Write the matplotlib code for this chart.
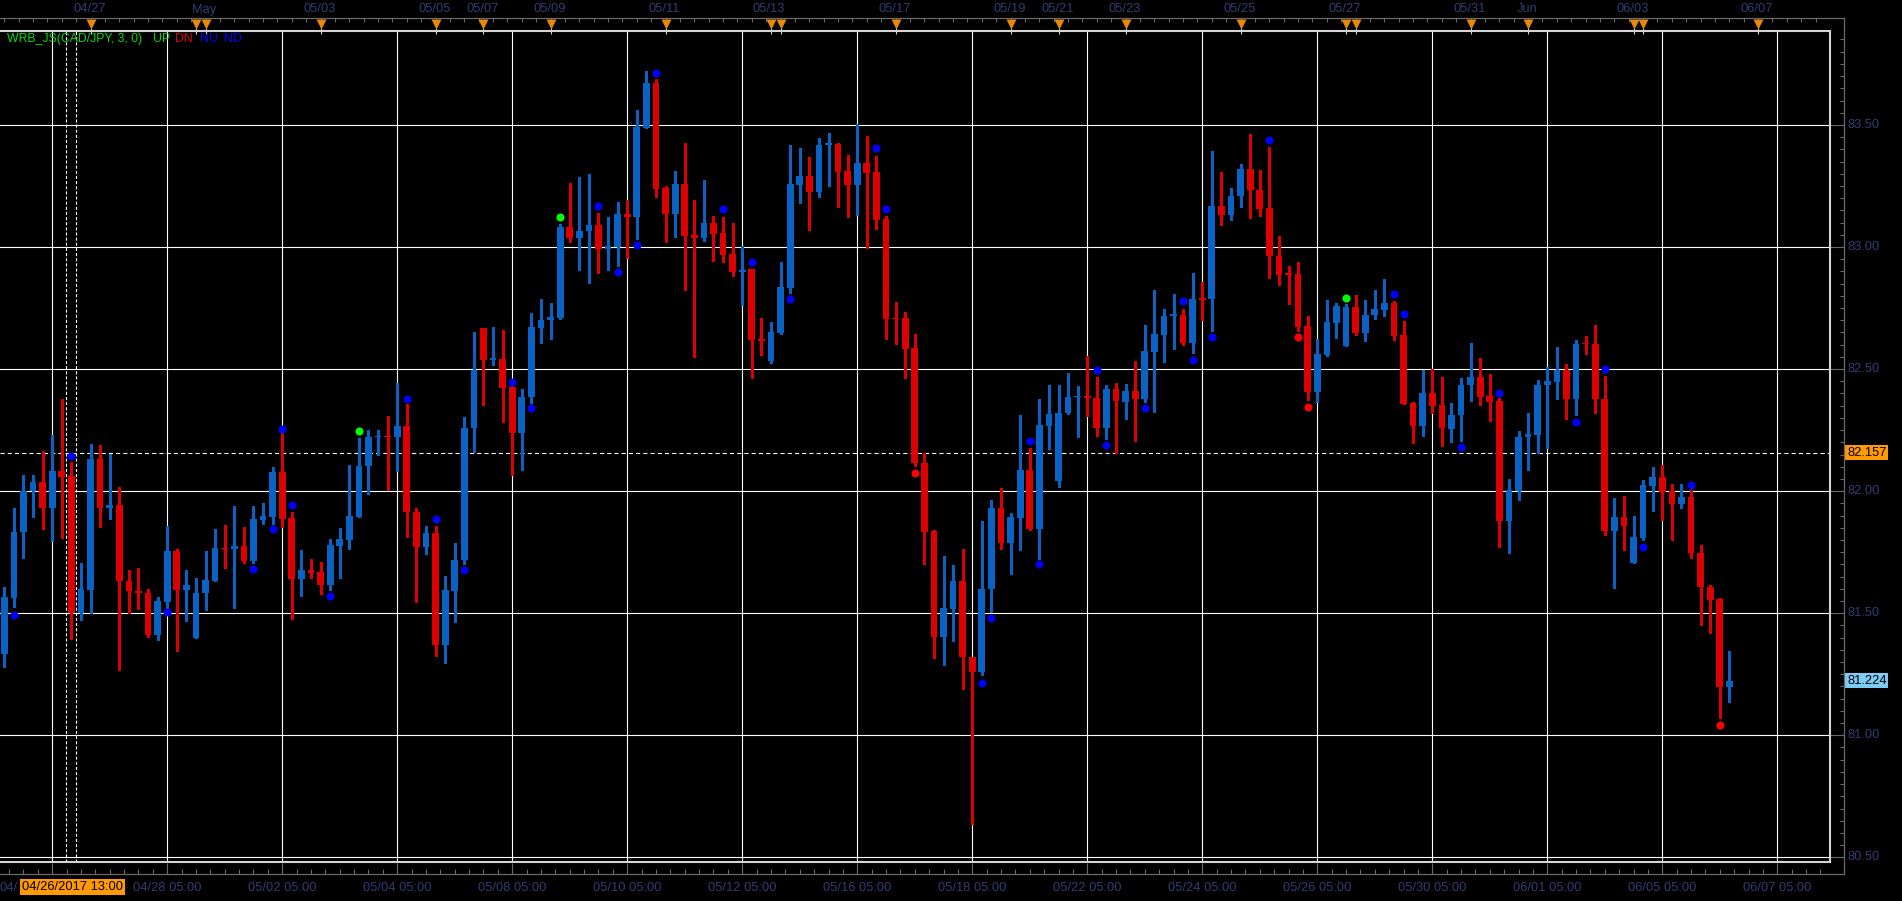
"""CAD/JPY H4 candles with WRB_JS dots, MT4-style dark chart."""

from __future__ import annotations

import matplotlib

matplotlib.use("Agg")
import matplotlib.pyplot as plt
import matplotlib.transforms as mtransforms
import numpy as np
from matplotlib.lines import Line2D
from matplotlib.patches import Rectangle

OUT_PATH = "out.png"
W_PX, H_PX = 1902, 901

# --- OHLC, one row per H4 bar (index 0 = leftmost bar) ---
OPEN = [
    81.335, 81.564, 81.831, 81.999, 82.038, 81.933, 82.083, 82.063, 81.500, 81.597,
    82.133, 81.933, 81.944, 81.633, 81.592, 81.583, 81.411, 81.546, 81.755, 81.597,
    81.400, 81.581, 81.633, 81.769, 81.761, 81.776, 81.714, 81.883, 81.895, 82.079,
    81.891, 81.641, 81.678, 81.669, 81.616, 81.776, 81.801, 81.895, 82.101, 82.220,
    82.224, 82.222, 82.267, 81.916, 81.770, 81.829, 81.368, 81.593, 81.716, 82.257,
    82.668, 82.539, 82.541, 82.427, 82.240, 82.385, 82.670, 82.699, 82.711, 83.082,
    83.038, 83.064, 83.091, 82.991, 83.001, 83.135, 83.123, 83.488, 83.671, 83.242,
    83.137, 83.259, 83.050, 83.035, 83.099, 83.059, 82.971, 82.897, 82.910, 82.621,
    82.533, 82.646, 82.833, 83.253, 83.291, 83.226, 83.418, 83.423, 83.312, 83.253,
    83.345, 83.308, 83.115, 82.709, 82.709, 82.586, 82.117, 81.835, 81.404, 81.519,
    81.630, 81.322, 81.259, 81.598, 81.933, 81.789, 81.891, 82.086, 81.843, 82.266,
    82.040, 82.320, 82.385, 82.387, 82.382, 82.257, 82.420, 82.367, 82.412, 82.379,
    82.571, 82.641, 82.718, 82.720, 82.608, 82.787, 82.785, 83.169, 83.133, 83.208,
    83.321, 83.235, 83.161, 82.964, 82.889, 82.890, 82.677, 82.408, 82.558, 82.690,
    82.596, 82.755, 82.649, 82.720, 82.743, 82.771, 82.641, 82.362, 82.268, 82.400,
    82.354, 82.255, 82.310, 82.433, 82.469, 82.391, 82.370, 81.876, 82.001, 82.220,
    82.231, 82.433, 82.448, 82.497, 82.376, 82.606, 82.604, 82.378, 81.835, 81.895,
    81.706, 81.809, 82.023, 82.059, 81.999, 81.949, 81.977, 81.747, 81.609, 81.559,
    81.199,
]
HIGH = [
    81.609, 81.932, 82.067, 82.067, 82.165, 82.231, 82.378, 82.119, 81.706, 82.194,
    82.190, 82.153, 82.016, 81.678, 81.686, 81.600, 81.567, 81.857, 81.761, 81.678,
    81.645, 81.755, 81.843, 81.862, 81.940, 81.854, 81.940, 81.951, 82.100, 82.238,
    81.915, 81.760, 81.723, 81.710, 81.805, 81.850, 82.108, 82.219, 82.249, 82.249,
    82.308, 82.444, 82.356, 81.931, 81.858, 81.858, 81.651, 81.789, 82.305, 82.651,
    82.668, 82.673, 82.661, 82.430, 82.419, 82.731, 82.787, 82.772, 83.096, 83.262,
    83.288, 83.300, 83.140, 83.123, 83.184, 83.193, 83.561, 83.721, 83.688, 83.250,
    83.310, 83.427, 83.193, 83.274, 83.128, 83.123, 83.098, 83.006, 82.910, 82.709,
    82.692, 82.937, 83.418, 83.406, 83.370, 83.448, 83.467, 83.427, 83.377, 83.504,
    83.454, 83.374, 83.128, 82.774, 82.734, 82.644, 82.157, 81.839, 81.736, 81.697,
    81.762, 81.322, 81.877, 81.964, 82.013, 81.912, 82.312, 82.178, 82.377, 82.433,
    82.433, 82.483, 82.429, 82.555, 82.469, 82.433, 82.444, 82.440, 82.534, 82.682,
    82.824, 82.748, 82.809, 82.748, 82.895, 82.857, 83.395, 83.309, 83.243, 83.342,
    83.464, 83.317, 83.411, 83.047, 82.923, 82.940, 82.719, 82.624, 82.784, 82.771,
    82.768, 82.804, 82.784, 82.824, 82.867, 82.780, 82.697, 82.367, 82.497, 82.502,
    82.467, 82.362, 82.464, 82.608, 82.546, 82.481, 82.380, 82.051, 82.247, 82.321,
    82.456, 82.510, 82.592, 82.522, 82.620, 82.637, 82.682, 82.473, 81.973, 81.981,
    81.899, 82.046, 82.100, 82.108, 82.031, 82.031, 82.003, 81.780, 81.616, 81.564,
    81.346,
]
LOW = [
    81.281, 81.525, 81.728, 81.896, 81.843, 81.794, 81.810, 81.395, 81.473, 81.500,
    81.854, 81.887, 81.269, 81.499, 81.518, 81.403, 81.392, 81.514, 81.346, 81.469,
    81.400, 81.515, 81.630, 81.687, 81.523, 81.704, 81.706, 81.865, 81.867, 81.854,
    81.477, 81.572, 81.646, 81.579, 81.596, 81.645, 81.764, 81.895, 81.987, 82.147,
    82.003, 82.084, 81.811, 81.544, 81.741, 81.323, 81.298, 81.466, 81.702, 82.160,
    82.351, 82.517, 82.284, 82.067, 82.087, 82.362, 82.605, 82.624, 82.705, 83.021,
    82.904, 82.851, 82.892, 82.904, 82.924, 82.953, 83.033, 83.488, 83.205, 83.021,
    83.042, 82.823, 82.551, 83.026, 82.943, 82.940, 82.881, 82.764, 82.464, 82.559,
    82.523, 82.642, 82.812, 83.180, 83.071, 83.205, 83.249, 83.163, 83.123, 83.130,
    82.996, 83.073, 82.623, 82.603, 82.464, 82.103, 81.701, 81.316, 81.287, 81.385,
    81.190, 80.638, 81.247, 81.504, 81.764, 81.659, 81.759, 81.839, 81.722, 82.174,
    82.019, 82.316, 82.220, 82.308, 82.226, 82.215, 82.155, 82.295, 82.204, 82.365,
    82.326, 82.530, 82.583, 82.600, 82.567, 82.702, 82.654, 83.089, 83.110, 83.165,
    83.118, 83.125, 82.875, 82.843, 82.765, 82.658, 82.375, 82.365, 82.555, 82.628,
    82.596, 82.638, 82.616, 82.707, 82.718, 82.621, 82.359, 82.199, 82.227, 82.321,
    82.185, 82.202, 82.206, 82.370, 82.354, 82.288, 81.772, 81.747, 81.964, 82.087,
    82.156, 82.178, 82.378, 82.294, 82.313, 82.563, 82.321, 81.821, 81.605, 81.757,
    81.706, 81.798, 81.919, 81.883, 81.798, 81.929, 81.728, 81.452, 81.417, 81.071,
    81.136,
]
CLOSE = [
    81.567, 81.833, 82.001, 82.038, 81.933, 82.083, 82.060, 81.500, 81.600, 82.133,
    81.933, 81.944, 81.630, 81.589, 81.581, 81.411, 81.551, 81.755, 81.597, 81.616,
    81.583, 81.637, 81.768, 81.761, 81.776, 81.714, 81.887, 81.899, 82.079, 81.887,
    81.641, 81.678, 81.665, 81.616, 81.780, 81.805, 81.899, 82.104, 82.222, 82.224,
    82.220, 82.267, 81.913, 81.770, 81.829, 81.368, 81.595, 81.719, 82.259, 82.498,
    82.539, 82.541, 82.424, 82.240, 82.386, 82.673, 82.702, 82.714, 83.082, 83.038,
    83.065, 83.091, 82.991, 83.003, 83.135, 83.123, 83.492, 83.671, 83.239, 83.137,
    83.259, 83.045, 83.035, 83.099, 83.055, 82.967, 82.897, 82.906, 82.621, 82.617,
    82.651, 82.835, 83.257, 83.291, 83.226, 83.418, 83.420, 83.308, 83.253, 83.345,
    83.303, 83.111, 82.705, 82.705, 82.584, 82.115, 81.831, 81.404, 81.523, 81.630,
    81.320, 81.259, 81.598, 81.933, 81.789, 81.893, 82.086, 81.843, 82.270, 82.316,
    82.322, 82.385, 82.387, 82.383, 82.257, 82.420, 82.370, 82.412, 82.379, 82.575,
    82.644, 82.719, 82.720, 82.608, 82.788, 82.784, 83.169, 83.133, 83.208, 83.321,
    83.232, 83.157, 82.962, 82.887, 82.887, 82.674, 82.408, 82.560, 82.694, 82.760,
    82.755, 82.649, 82.723, 82.748, 82.771, 82.636, 82.359, 82.268, 82.400, 82.350,
    82.257, 82.313, 82.436, 82.469, 82.387, 82.366, 81.876, 82.005, 82.223, 82.235,
    82.436, 82.452, 82.497, 82.376, 82.604, 82.602, 82.376, 81.835, 81.895, 81.859,
    81.813, 82.026, 82.059, 81.995, 81.949, 81.977, 81.745, 81.607, 81.556, 81.199,
    81.223,
]

# --- WRB_JS indicator dots: bar index, price, kind ---
DOT_IDX = [
    1, 7, 17, 26, 28, 29, 30, 34, 37, 42, 45, 48, 53, 55, 58, 62, 64, 66, 68, 75,
    78, 82, 91, 92, 95, 102, 103, 107, 108, 114, 115, 119, 123, 124, 126, 132, 135,
    136, 140, 145, 146, 152, 156, 164, 167, 171, 176, 179,
]
DOT_PRICE = [
    81.494, 82.146, 81.507, 81.683, 81.843, 82.255, 81.945, 81.572, 82.245, 82.379,
    81.887, 81.678, 82.449, 82.339, 83.123, 83.166, 82.899, 83.009, 83.711, 83.154,
    82.939, 82.789, 83.404, 83.157, 82.073, 81.215, 81.481, 82.205, 81.701, 82.498,
    82.188, 82.339, 82.777, 82.539, 82.630, 83.440, 82.633, 82.346, 82.793, 82.806,
    82.724, 82.182, 82.403, 82.284, 82.499, 81.772, 82.027, 81.042,
]
DOT_KIND = [
    "N", "N", "N", "N", "N", "N", "N", "N", "UP", "N", "N", "N", "N", "N", "UP", "N",
    "N", "N", "N", "N", "N", "N", "N", "N", "DN", "N", "N", "N", "N", "N", "N", "N",
    "N", "N", "N", "N", "DN", "DN", "UP", "N", "N", "N", "N", "N", "N", "N", "N", "DN",
]

# --- axes labelling ---
PRICE_LEVELS = [80.5, 81.0, 81.5, 82.0, 82.5, 83.0, 83.5]
BID_PRICE = 82.157
LAST_PRICE = 81.224
GRID_IDX = [5, 17, 29, 41, 53, 65, 77, 89, 101, 113, 125, 137, 149, 161, 173, 185]
BOTTOM_LABELS = [
    "04/28 05:00", "05/02 05:00", "05/04 05:00", "05/08 05:00", "05/10 05:00",
    "05/12 05:00", "05/16 05:00", "05/18 05:00", "05/22 05:00", "05/24 05:00",
    "05/26 05:00", "05/30 05:00", "06/01 05:00", "06/05 05:00", "06/07 05:00",
]
EVENT_IDX = [9, 20, 21, 33, 45, 50, 57, 69, 80, 81, 93, 105, 110, 117, 129, 140, 141,
             153, 159, 170, 171, 183]
TOP_LABEL_IDX = [8.9, 20.8, 32.9, 44.9, 49.9, 56.9, 68.9, 79.8, 92.9, 104.9, 109.9,
                 116.9, 128.9, 139.9, 152.9, 158.9, 169.9, 182.9]
TOP_LABELS = ["04/27", "May", "05/03", "05/05", "05/07", "05/09", "05/11", "05/13",
              "05/17", "05/19", "05/21", "05/23", "05/25", "05/27", "05/31", "Jun",
              "06/03", "06/07"]
CROSS_IDX = [6.47, 7.51]

UP_COL = "#0A62C4"
DN_COL = "#DD0000"
NAVY = "#333B73"
AXIS_GRAY = "#6A6A6A"
FRAME = "#D4D4D4"
FONT = "Liberation Sans"
FS = 9.3


def fx(px: float) -> float:
    return px / W_PX


def fy(px: float) -> float:
    return 1.0 - px / H_PX


def main() -> None:
    plt.rcParams.update({"font.family": FONT, "lines.scale_dashes": False})

    fig = plt.figure(figsize=(W_PX / 100, H_PX / 100), dpi=100)
    fig.patch.set_facecolor("black")

    ax = fig.add_axes([0, fy(862), fx(1830), (862 - 30.7) / H_PX])
    ax.set_facecolor("black")
    ax.set_xticks([])
    ax.set_yticks([])
    ax.spines["left"].set_visible(False)
    for s in ("top", "right", "bottom"):
        ax.spines[s].set_color(FRAME)
        ax.spines[s].set_linewidth(1.5)

    idx = np.arange(len(OPEN))
    o = np.array(OPEN)
    h = np.array(HIGH)
    lo = np.array(LOW)
    c = np.array(CLOSE)
    up = c >= o
    cols = np.where(up, UP_COL, DN_COL)

    # grid
    for p in PRICE_LEVELS:
        ax.axhline(p, color="white", lw=0.8, zorder=1)
    for g in GRID_IDX:
        ax.axvline(g, color="white", lw=0.8, zorder=1)

    ax.axhline(BID_PRICE, color="white", lw=0.8, linestyle=(0, (3.0, 2.2)), zorder=2)
    for x in CROSS_IDX:
        ax.axvline(x, color="white", lw=0.8, linestyle=(0, (2.2, 1.5)), zorder=2)

    # candles
    ax.vlines(idx, lo, h, colors=cols, lw=0.9, zorder=3, antialiased=False)
    body_lo = np.minimum(o, c)
    body_h = np.maximum(np.abs(c - o), 0.006)
    ax.bar(idx, body_h, bottom=body_lo, width=0.7, color=cols, lw=0,
           zorder=4, antialiased=False)

    # indicator dots
    kind_col = {"N": "#0000FF", "UP": "#00FF00", "DN": "#FF0000"}
    dk = np.array(DOT_KIND)
    for k, col in kind_col.items():
        m = dk == k
        ax.plot(np.array(DOT_IDX)[m], np.array(DOT_PRICE)[m], "o", ms=5.8,
                color=col, mec="none", zorder=5)

    ax.set_xlim(-0.449, 190.5)
    ax.set_ylim(80.481, 83.886)

    # outer scale box (top strip, right price scale, bottom time scale)
    for xs, ys in (
        ([0, fx(1844)], [fy(18), fy(18)]),
        ([fx(1844), fx(1844)], [fy(18), fy(874)]),
        ([0, fx(1844)], [fy(874), fy(874)]),
    ):
        fig.add_artist(Line2D(xs, ys, transform=fig.transFigure, color=AXIS_GRAY, lw=0.9))

    tx = mtransforms.blended_transform_factory(ax.transData, fig.transFigure)
    ty = mtransforms.blended_transform_factory(fig.transFigure, ax.transData)

    top_ticks = np.arange(0, 190, 1.5)
    ax.vlines(top_ticks, fy(18), fy(22), transform=tx, colors=AXIS_GRAY, lw=0.8,
              clip_on=False)
    bot_ticks = np.arange(0.5, 190, 1.5)
    ax.vlines(bot_ticks, fy(869), fy(874), transform=tx, colors=AXIS_GRAY, lw=0.8,
              clip_on=False)
    ax.vlines(GRID_IDX, fy(863), fy(874), transform=tx, colors=AXIS_GRAY, lw=0.8,
              clip_on=False)

    ax.vlines(EVENT_IDX, fy(28), fy(33.5), transform=tx, colors=FRAME, lw=0.8,
              clip_on=False, zorder=6)
    ax.plot(EVENT_IDX, [fy(23.5)] * len(EVENT_IDX), "v", transform=tx, ms=6.8,
            color="#E8890C", mec="none", clip_on=False, zorder=7)

    for x, lab in zip(TOP_LABEL_IDX, TOP_LABELS):
        ax.text(x, fy(9.5), lab, transform=tx, ha="center", va="center",
                color=NAVY, fontsize=FS, clip_on=False)
    for x, lab in zip(GRID_IDX[1:], BOTTOM_LABELS):
        ax.text(x, fy(888), lab, transform=tx, ha="center", va="center",
                color=NAVY, fontsize=FS, clip_on=False)

    # right price scale
    minor = np.arange(80.5, 83.88, 0.05)
    ax.hlines(minor, fx(1840), fx(1844), transform=ty, colors=AXIS_GRAY, lw=0.8,
              clip_on=False)
    ax.hlines(PRICE_LEVELS, fx(1830), fx(1844), transform=ty, colors=AXIS_GRAY,
              lw=0.8, clip_on=False)
    for p in PRICE_LEVELS:
        ax.text(fx(1847.5), p, f"{p:.2f}", transform=ty, ha="left", va="center",
                color=NAVY, fontsize=FS, clip_on=False)
    for p, bg in ((BID_PRICE, "#FF9A00"), (LAST_PRICE, "#7CCBF5")):
        ax.text(fx(1847), p, f"{p:.3f}", transform=ty, ha="left", va="center",
                color="black", fontsize=FS, clip_on=False, zorder=8,
                bbox=dict(boxstyle="square,pad=0.12", fc=bg, ec="none"))

    # crosshair time box (hides the first time label except its start)
    fig.text(0, fy(888), "04/", ha="left", va="center", color=NAVY, fontsize=FS)
    fig.add_artist(Rectangle((fx(19.6), fy(895)), fx(105), 16 / H_PX,
                             transform=fig.transFigure, fc="#FF9A00", ec="none",
                             zorder=9))
    fig.text(fx(72), fy(887.5), "04/26/2017 13:00", ha="center", va="center",
             color="black", fontsize=FS, zorder=10)

    # indicator legend
    for x, txt, col in (
        (7.3, "WRB_JS(CAD/JPY, 3, 0)", "#00DD00"),
        (152.7, "UP", "#00DD00"),
        (175.5, "DN", "#E00000"),
        (199.6, "NU", "#0000FF"),
        (223.7, "ND", "#0000FF"),
    ):
        fig.text(fx(x), fy(39), txt, ha="left", va="center", color=col, fontsize=8.8)

    fig.savefig(OUT_PATH, dpi=100, facecolor="black")
    plt.close(fig)


if __name__ == "__main__":
    main()
